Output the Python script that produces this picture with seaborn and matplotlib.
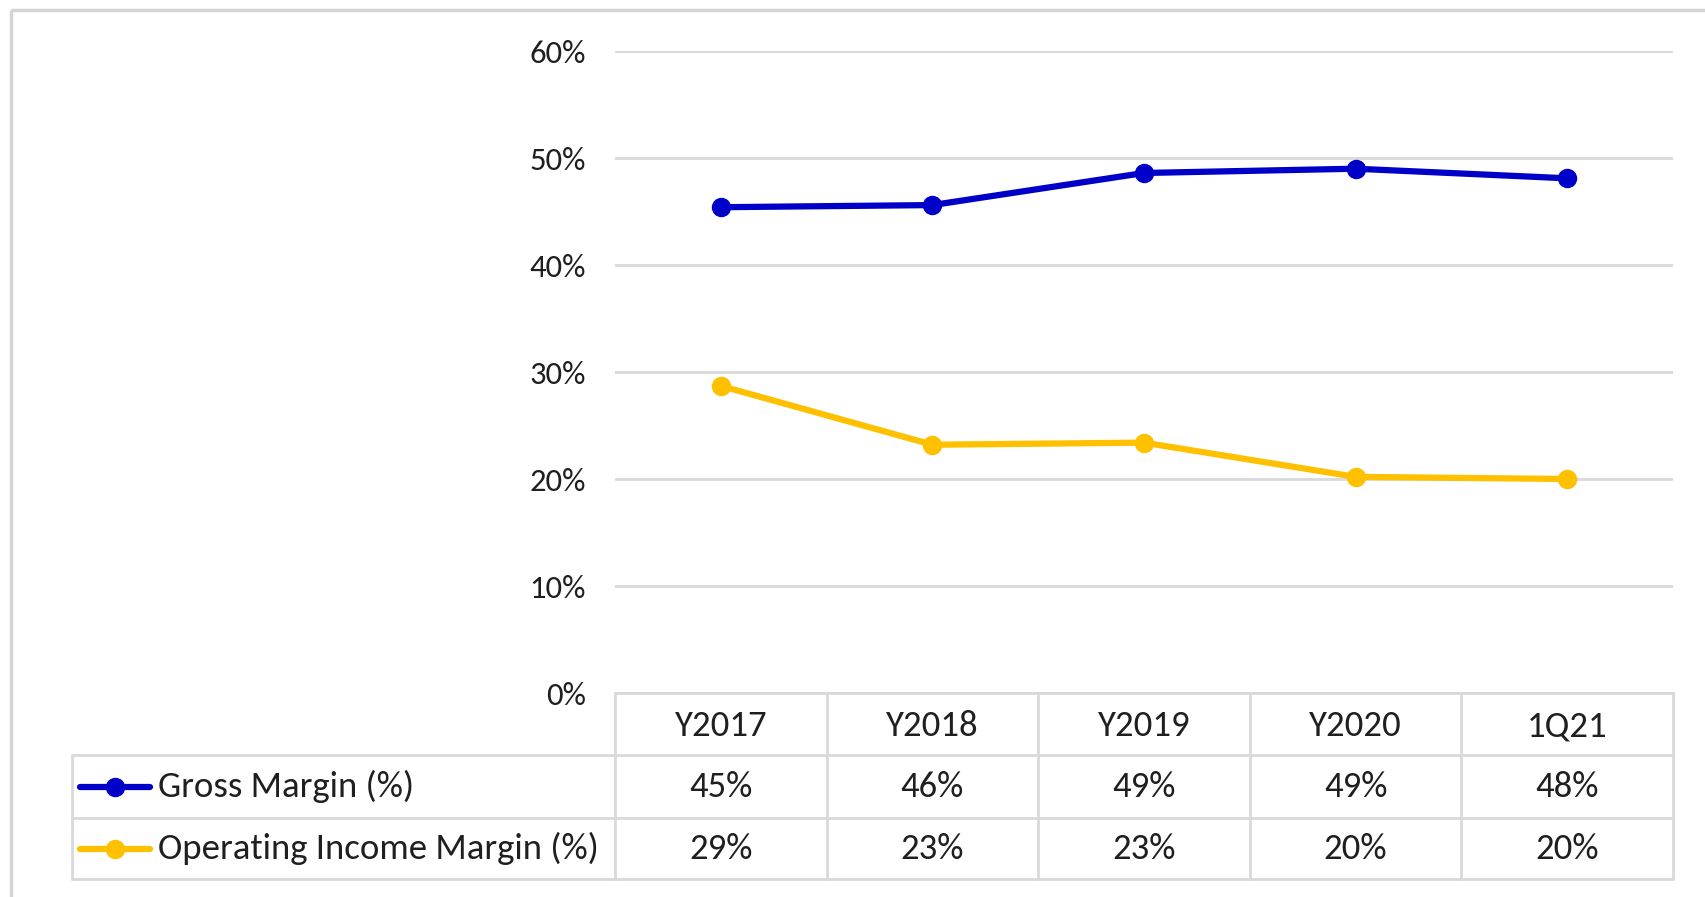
import matplotlib
matplotlib.use("Agg")
import matplotlib.pyplot as plt
import matplotlib.transforms as mtransforms
from matplotlib.lines import Line2D
from matplotlib.ticker import PercentFormatter
import seaborn as sns
import pandas as pd

# ---- data ----
categories = ["Y2017", "Y2018", "Y2019", "Y2020", "1Q21"]
gross_margin = [45.4, 45.6, 48.6, 49.0, 48.1]
operating_margin = [28.7, 23.2, 23.4, 20.2, 20.0]
gross_labels = ["45%", "46%", "49%", "49%", "48%"]
operating_labels = ["29%", "23%", "23%", "20%", "20%"]
series_names = ["Gross Margin (%)", "Operating Income Margin (%)"]
colors = ["#0000C8", "#FFC000"]
yticks = [0, 10, 20, 30, 40, 50, 60]

df = pd.DataFrame({
    "category": categories * 2,
    "x": list(range(len(categories))) * 2,
    "value": gross_margin + operating_margin,
    "series": [series_names[0]] * len(categories) + [series_names[1]] * len(categories),
})

sns.set_theme(style="white")
plt.rcParams["font.family"] = ["Carlito", "Lato", "DejaVu Sans"]

W, H = 1706, 897
fig = plt.figure(figsize=(W / 100, H / 100), dpi=100)

def fx(px):
    return px / W

def fy(py):
    return 1 - py / H

TEXT = "#1F1F1F"
GRID = "#D9D9D9"
FS_TICK = 23.5
FS = 26.5

# background axes for frame
bg = fig.add_axes([0, 0, 1, 1])
bg.set_xlim(0, W)
bg.set_ylim(H, 0)
bg.axis("off")
bg.plot([11, W], [10, 10], color="#D4D4D4", lw=2.5, solid_capstyle="butt")
bg.plot([11, 11], [10, H], color="#D4D4D4", lw=2.5, solid_capstyle="butt")

# main plot axes
left, right, top, bottom = 615, 1673, 51, 693
ax = fig.add_axes([fx(left), fy(bottom), fx(right - left), (bottom - top) / H])

sns.lineplot(data=df, x="x", y="value", hue="series", palette=dict(zip(series_names, colors)),
             marker="o", markersize=14, linewidth=4.5, markeredgewidth=0, ax=ax, legend=False)

ax.set_xlim(-0.5, len(categories) - 0.5)
ax.set_ylim(0, 60)
ax.set_yticks(yticks)
ax.yaxis.set_major_formatter(PercentFormatter(decimals=0))
ax.set_xticks([])
ax.set_xlabel("")
ax.set_ylabel("")
ax.tick_params(axis="y", length=0, pad=21, labelsize=FS_TICK, labelcolor=TEXT)
ax.grid(axis="y", color=GRID, lw=2)
ax.set_axisbelow(True)
for s in ax.spines.values():
    s.set_visible(False)

# table
trans = mtransforms.blended_transform_factory(ax.transData, fig.transFigure)
row_edges = [693, 755, 818, 879]
table_left = 72
n = len(categories)

fig.add_artist(Line2D([fx(left), fx(right)], [fy(row_edges[0])] * 2, color=GRID, lw=2))
for ry in row_edges[1:]:
    fig.add_artist(Line2D([fx(table_left), fx(right)], [fy(ry)] * 2, color=GRID, lw=2))
for i in range(n + 1):
    xline = i - 0.5
    ax.add_line(Line2D([xline, xline], [fy(row_edges[0]), fy(row_edges[-1])], transform=trans,
                       color=GRID, lw=2, clip_on=False))
fig.add_artist(Line2D([fx(table_left)] * 2, [fy(row_edges[1]), fy(row_edges[-1])], color=GRID, lw=2))

centers = [(row_edges[k] + row_edges[k + 1]) / 2 for k in range(3)]
for i, c in enumerate(categories):
    ax.text(i, fy(centers[0] + 2), c, transform=trans, ha="center", va="center", fontsize=FS, color=TEXT)
    ax.text(i, fy(centers[1]), gross_labels[i], transform=trans, ha="center", va="center", fontsize=FS, color=TEXT)
    ax.text(i, fy(centers[2]), operating_labels[i], transform=trans, ha="center", va="center", fontsize=FS, color=TEXT)

for k, (name, col) in enumerate(zip(series_names, colors)):
    yc = fy(centers[k + 1])
    fig.add_artist(Line2D([fx(80), fx(150)], [yc, yc], color=col, lw=4.5))
    fig.add_artist(Line2D([fx(115)], [yc], color=col, marker="o", markersize=14, markeredgewidth=0))
    fig.text(fx(158), yc, name, ha="left", va="center", fontsize=FS, color=TEXT)

fig.savefig("out.png", dpi=100)
